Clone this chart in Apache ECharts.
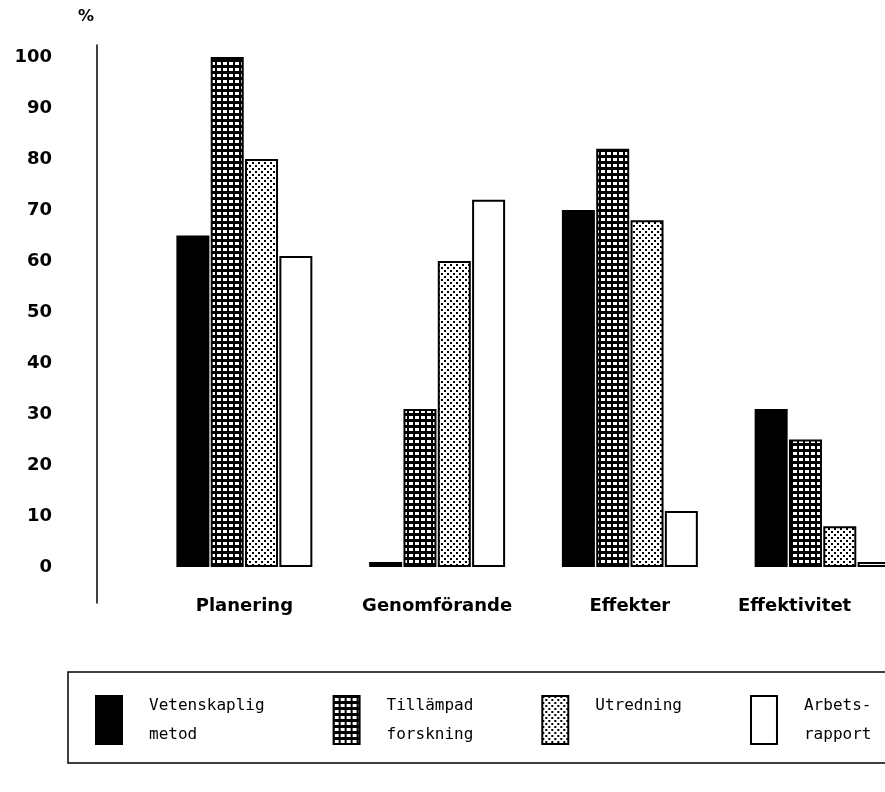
<!DOCTYPE html>
<html><head><meta charset="utf-8">
<script src="https://cdn.jsdelivr.net/npm/echarts@6/dist/echarts.min.js"></script>
<style>html,body{margin:0;padding:0;background:#fff}#c{width:885px;height:792px}</style>
</head><body><div id="c"></div>
<script>
const categories = ['Planering', 'Genomförande', 'Effekter', 'Effektivitet'];
const seriesNames = ['Vetenskaplig metod', 'Tillämpad forskning', 'Utredning', 'Arbetsrapport'];
const legendLabels = ['Vetenskaplig\nmetod', 'Tillämpad\nforskning', 'Utredning\n', 'Arbets-\nrapport'];
const vetenskapligMetod = [65, 1, 70, 31];
const tillampadForskning = [100, 31, 82, 25];
const utredning = [80, 60, 68, 8];
const arbetsrapport = [61, 72, 11, 1];
const yMin = 0, yMax = 100, yInterval = 10;
const yUnit = '%';

function gridPattern() {
  const c = document.createElement('canvas'); c.width = 6; c.height = 6;
  const g = c.getContext('2d');
  g.fillStyle = '#000'; g.fillRect(0, 0, 6, 6);
  g.fillStyle = '#fff'; g.fillRect(1, 2, 4, 3);
  return c;
}
function dotPattern() {
  const c = document.createElement('canvas'); c.width = 6; c.height = 6;
  const g = c.getContext('2d');
  g.fillStyle = '#fff'; g.fillRect(0, 0, 6, 6);
  g.fillStyle = '#000'; g.fillRect(0, 0, 2, 2); g.fillRect(3, 3, 2, 2);
  return c;
}
const fills = [
  '#000',
  { image: gridPattern(), repeat: 'repeat' },
  { image: dotPattern(), repeat: 'repeat' },
  '#fff'
];
const values = [vetenskapligMetod, tillampadForskning, utredning, arbetsrapport];

const chart = echarts.init(document.getElementById('c'), null, { renderer: 'canvas' });
chart.setOption({
  animation: false,
  backgroundColor: '#fff',
  grid: [
    { left: 148, width: 771, top: 57, bottom: 225, containLabel: false, outerBoundsMode: 'none' },
    { left: 97, width: 10, top: 45, bottom: 189, containLabel: false, outerBoundsMode: 'none' }
  ],
  xAxis: [
    {
      gridIndex: 0, type: 'category', data: categories,
      axisLine: { show: false }, axisTick: { show: false }, splitLine: { show: false },
      axisLabel: {
        interval: 0, hideOverlap: false,
        margin: 30, color: '#000', fontFamily: 'DejaVu Sans', fontWeight: 'bold', fontSize: 18,
        formatter: function (v) { return v === 'Effektivitet' ? '{s|' + v + '}' : v; },
        rich: { s: { padding: [0, 56, 0, 0], color: '#000', fontFamily: 'DejaVu Sans', fontWeight: 'bold', fontSize: 18 } }
      }
    },
    { gridIndex: 1, type: 'value', show: false }
  ],
  yAxis: [
    {
      gridIndex: 0, type: 'value', min: yMin, max: yMax, interval: yInterval, offset: 51,
      axisLine: { show: false }, axisTick: { show: false }, splitLine: { show: false },
      axisLabel: { margin: 45, color: '#000', fontFamily: 'DejaVu Sans', fontWeight: 'bold', fontSize: 18 }
    },
    {
      gridIndex: 1, type: 'value', min: 0, max: 1,
      name: yUnit, nameLocation: 'end', nameGap: 20,
      nameTextStyle: { color: '#000', fontFamily: 'DejaVu Sans', fontWeight: 'bold', fontSize: 16, padding: [0, 22, 0, 0] },
      axisLine: { show: true, lineStyle: { color: '#000', width: 1.5 } },
      axisTick: { show: false }, axisLabel: { show: false }, splitLine: { show: false }
    }
  ],
  legend: {
    left: 68, top: 672, width: 840,
    orient: 'horizontal',
    padding: [19, 40, 14, 27],
    borderColor: '#000', borderWidth: 1.5,
    itemWidth: 26, itemHeight: 48, itemGap: 68,
    icon: 'rect',
    data: seriesNames,
    formatter: function (n) { return legendLabels[seriesNames.indexOf(n)]; },
    textStyle: { color: '#000', fontFamily: 'DejaVu Sans Mono', fontSize: 16, lineHeight: 29, padding: [0, 0, 0, 22] }
  },
  series: seriesNames.map(function (name, i) {
    return {
      name: name, type: 'bar', xAxisIndex: 0, yAxisIndex: 0,
      data: values[i], barWidth: 33, barGap: '4%',
      itemStyle: { color: fills[i], borderColor: '#000', borderWidth: 2 }
    };
  })
});
</script></body></html>
